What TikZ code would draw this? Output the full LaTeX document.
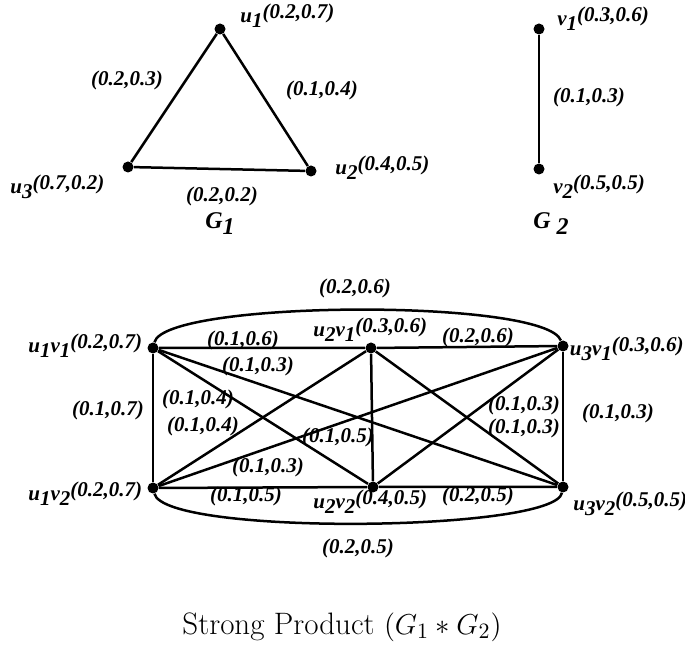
\documentclass[tikz,border=0pt]{standalone}
\usepackage{fontspec}
\newfontfamily\labfont{Liberation Serif}
\usetikzlibrary{positioning}
\newcommand{\lsub}[1]{\raisebox{-0.55ex}{#1}}
\newcommand{\lval}[1]{\raisebox{0.35ex}{#1}}
\tikzset{
    vert/.style={circle, fill=black, inner sep=0pt, minimum size=5.5pt},
    edge/.style={line width=1.25pt, color=black},
    wlab/.style={font=\labfont\bfseries\itshape\fontsize{10.5}{12}\selectfont, inner sep=1pt},
    vlab/.style={wlab, anchor=west},
}

\begin{document}
\begin{tikzpicture}[x=0.5pt, y=-0.5pt]
    \useasboundingbox (0,0) rectangle (685,651);

    % Graph G1
    \node[vert] (u1) at (220,29) {};
    \node[vert] (u2) at (311,171) {};
    \node[vert] (u3) at (128,167) {};
    \draw[edge] (u1) -- (u2) -- (u3) -- (u1);
    \node[vlab] (lu1) at (238,16) {u\lsub{1}\lval{(0.2,0.7)}};
    \node[vlab] (lu2) at (333,168) {u\lsub{2}\lval{(0.4,0.5)}};
    \node[vlab] (lu3) at (8,187) {u\lsub{3}\lval{(0.7,0.2)}};
    \node[wlab] (e13) at (127,80) {(0.2,0.3)};
    \node[wlab] (e12) at (322,90) {(0.1,0.4)};
    \node[wlab] (e23) at (222,196) {(0.2,0.2)};
    \node[wlab, font=\labfont\bfseries\itshape\fontsize{12}{14}\selectfont] (g1) at (220,224) {G\lsub{1}};

    % Graph G2
    \node[vert] (v1) at (539,29) {};
    \node[vert] (v2) at (539,169) {};
    \draw[edge] (v1) -- (v2);
    \node[vlab] (lv1) at (555,19) {v\lsub{1}\lval{(0.3,0.6)}};
    \node[vlab] (lv2) at (551,187) {v\lsub{2}\lval{(0.5,0.5)}};
    \node[wlab] (f12) at (589,97) {(0.1,0.3)};
    \node[wlab, font=\labfont\bfseries\itshape\fontsize{12}{14}\selectfont] (g2) at (551,224) {G\lsub{ 2}};

    % Strong product
    \node[vert] (u1v1) at (153,348) {};
    \node[vert] (u2v1) at (371,348) {};
    \node[vert] (u3v1) at (563,346) {};
    \node[vert] (u1v2) at (153,488) {};
    \node[vert] (u2v2) at (373,487) {};
    \node[vert] (u3v2) at (563,487) {};

    \draw[edge] (u1v1) -- (u2v1) -- (u3v1);
    \draw[edge] (u1v2) -- (u2v2) -- (u3v2);
    \draw[edge] (u1v1) -- (u1v2);
    \draw[edge] (u2v1) -- (u2v2);
    \draw[edge] (u3v1) -- (u3v2);
    \draw[edge] (u1v1) -- (u2v2);
    \draw[edge] (u1v1) -- (u3v2);
    \draw[edge] (u2v1) -- (u1v2);
    \draw[edge] (u3v1) -- (u1v2);
    \draw[edge] (u2v1) -- (u3v2);
    \draw[edge] (u3v1) -- (u2v2);
    \draw[edge] (u1v1) .. controls (165,300) and (545,298) .. (u3v1);
    \draw[edge] (u1v2) .. controls (165,536) and (555,532) .. (u3v2);

    \node[vlab] (lu1v1) at (26,346) {u\lsub{1}v\lsub{1}\lval{(0.2,0.7)}};
    \node[vlab] (lu2v1) at (311,330) {u\lsub{2}v\lsub{1}\lval{(0.3,0.6)}};
    \node[wlab, anchor=east, inner sep=0pt] (lu3v1) at (684,349) {u\lsub{3}v\lsub{1}\lval{(0.3,0.6)}};
    \node[vlab] (lu1v2) at (26,494) {u\lsub{1}v\lsub{2}\lval{(0.2,0.7)}};
    \node[vlab] (lu2v2) at (311,502) {u\lsub{2}v\lsub{2}\lval{(0.4,0.5)}};
    \node[vlab] (lu3v2) at (571,504) {u\lsub{3}v\lsub{2}\lval{(0.5,0.5)}};

    \node[wlab] (a13) at (355,288) {(0.2,0.6)};
    \node[wlab] (a12) at (243,340) {(0.1,0.6)};
    \node[wlab] (a23) at (478,337) {(0.2,0.6)};
    \node[wlab] (d1) at (258,366) {(0.1,0.3)};
    \node[wlab] (s1) at (108,410) {(0.1,0.7)};
    \node[wlab] (d2) at (198,399) {(0.1,0.4)};
    \node[wlab] (d3) at (203,426) {(0.1,0.4)};
    \node[wlab] (s2) at (338,437) {(0.1,0.5)};
    \node[wlab] (d4) at (268,467) {(0.1,0.3)};
    \node[wlab] (b12) at (246,496) {(0.1,0.5)};
    \node[wlab] (b23) at (478,496) {(0.2,0.5)};
    \node[wlab] (b13) at (358,548) {(0.2,0.5)};
    \node[wlab] (d5) at (524,405) {(0.1,0.3)};
    \node[wlab] (d6) at (524,428) {(0.1,0.3)};
    \node[wlab] (s3) at (618,413) {(0.1,0.3)};

    \node[font=\fontsize{15.5}{18}\selectfont] (cap) at (342,627) {Strong Product $(G_1 * G_2)$};
\end{tikzpicture}
\end{document}
